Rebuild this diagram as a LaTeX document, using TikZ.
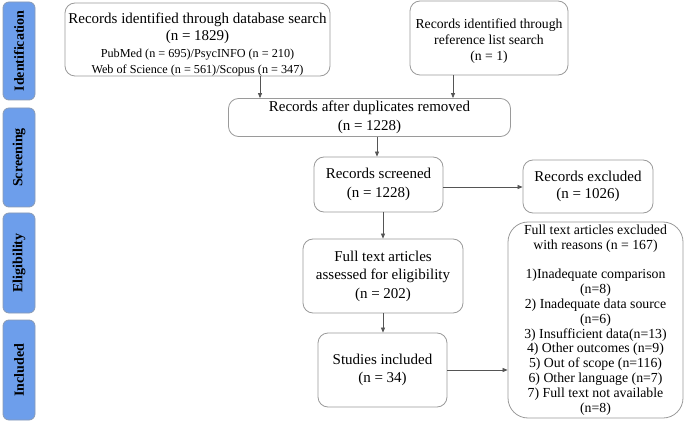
\documentclass[tikz,border=0pt]{standalone}
\usepackage{fontspec}
\setmainfont{Liberation Serif}
\usetikzlibrary{arrows.meta}
\definecolor{sideblue}{HTML}{6D9EEB}
\definecolor{sideedge}{HTML}{8A9BB5}
\definecolor{boxedge}{HTML}{9A9A9A}
\definecolor{arrgray}{HTML}{555555}
\tikzset{
  sidebox/.style={draw=sideedge, line width=0.8pt, fill=sideblue, rounded corners=6pt, minimum width=32pt, inner sep=0pt},
  sidetext/.style={rotate=90, font=\fontsize{14}{16}\selectfont\bfseries},
  flowbox/.style={draw=boxedge, line width=0.8pt, rounded corners=10pt, align=center, inner sep=1pt, font=\fontsize{15}{18.5}\selectfont},
  plaintext/.style={align=center, inner sep=0pt},
  arr/.style={draw=arrgray, line width=0.7pt, -{Triangle[length=5pt,width=4pt]}}
}
\begin{document}
\begin{tikzpicture}[x=1pt,y=-1pt]
\useasboundingbox (0,0) rectangle (685,422);
% side labels
\node[sidebox, minimum height=98pt] (sid) at (19,51) {};
\node[sidetext] at (sid) {Identification};
\node[sidebox, minimum height=99pt] (ssc) at (19,157.5) {};
\node[sidetext] at (ssc) {Screening};
\node[sidebox, minimum height=100pt] (sel) at (19,263) {};
\node[sidetext] at (sel) {Eligibility};
\node[sidebox, minimum height=100pt] (sin) at (19,370) {};
\node[sidetext] at (sin) {Included};
% boxes
\node[flowbox, minimum width=265pt, minimum height=73pt] (db) at (197.5,39.5) {};
\node[plaintext, font=\fontsize{15}{17}\selectfont] at (197.5,44.5)
 {Records identified through database search\\(n = 1829)\\[0pt]
 {\fontsize{12.2}{15}\selectfont PubMed (n = 695)/PsycINFO (n = 210)}\\[-1pt]
 {\fontsize{12.2}{15}\selectfont Web of Science (n = 561)/Scopus (n = 347)}};
\node[flowbox, minimum width=158pt, minimum height=74pt, inner sep=0pt, font=\fontsize{13.7}{16}\selectfont] (ref) at (489,38) {};
\node[plaintext, font=\fontsize{13.7}{16}\selectfont] at (489,41)
 {Records identified through\\reference list search\\(n = 1)};
\node[flowbox, minimum width=282pt, minimum height=38pt, font=\fontsize{15}{19.5}\selectfont] (dup) at (369.5,117.5)
 {Records after duplicates removed\\(n = 1228)};
\node[flowbox, minimum width=129pt, minimum height=55pt] (scr) at (378.5,184.5)
 {Records screened\\(n = 1228)};
\node[flowbox, minimum width=130pt, minimum height=53pt, font=\fontsize{15}{17.5}\selectfont] (exc) at (588,186.5)
 {Records excluded\\(n = 1026)};
\node[flowbox, minimum width=160pt, minimum height=74pt] (full) at (383,276)
 {Full text articles\\assessed for eligibility\\(n = 202)};
\node[flowbox, minimum width=129pt, minimum height=74pt] (inc) at (382.5,370)
 {Studies included\\(n = 34)};
\node[flowbox, rounded corners=20pt, minimum width=175pt, minimum height=196pt, inner sep=0pt, font=\fontsize{13.8}{14.8}\selectfont] (fex) at (595.5,320)
 {Full text articles excluded\\with reasons (n = 167)\\[14.8pt]
 1)Inadequate comparison\\(n=8)\\2) Inadequate data source\\(n=6)\\
 3) Insufficient data(n=13)\\4) Other outcomes (n=9)\\5) Out of scope (n=116)\\
 6) Other language (n=7)\\7) Full text not available\\(n=8)};
% connectors
\coordinate (a1) at (260,0);
\coordinate (a2) at (453,0);
\coordinate (a3) at (377,0);
\coordinate (a4) at (383,0);
\coordinate (a5) at (0,370);
\coordinate (a6) at (0,187);
\draw[arr] (db.south -| a1) -- (dup.north -| a1);
\draw[arr] (ref.south -| a2) -- (dup.north -| a2);
\draw[arr] (dup.south -| a3) -- (scr.north -| a3);
\draw[arr] (scr.east |- a6) -- (exc.west |- a6);
\draw[arr] (scr.south -| a4) -- (full.north -| a4);
\draw[arr] (full.south -| a4) -- (inc.north -| a4);
\draw[arr] (inc.east |- a5) -- (fex.west |- a5);
\end{tikzpicture}
\end{document}
